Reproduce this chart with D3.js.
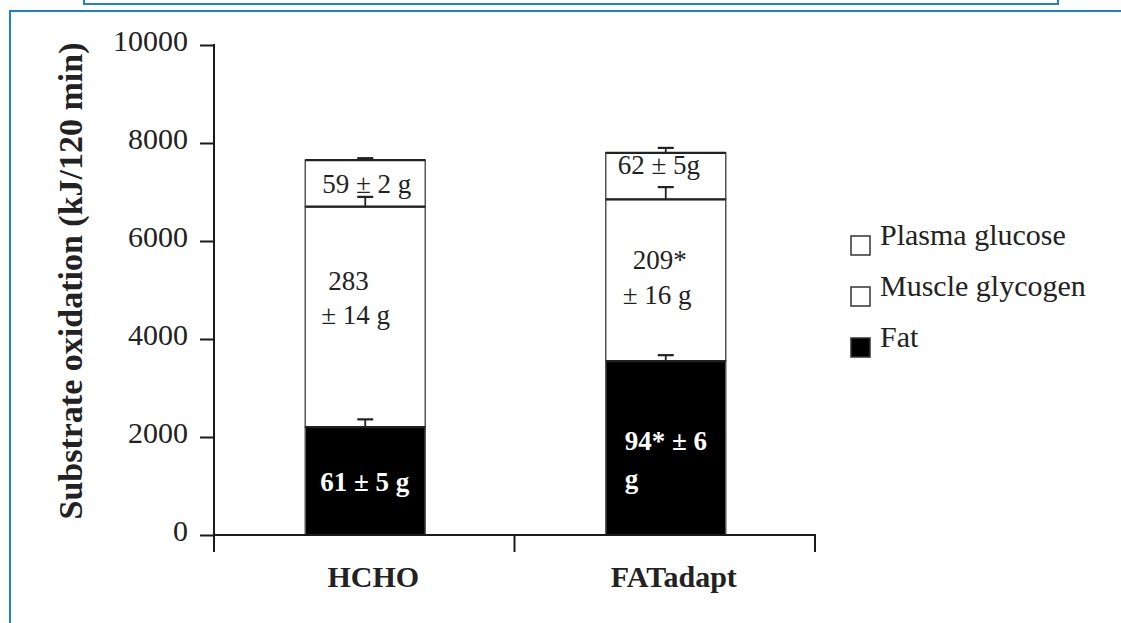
<!DOCTYPE html>
<html>
<head>
<meta charset="utf-8">
<script src="https://cdn.jsdelivr.net/npm/d3@7"></script>
<style>
  html, body { margin: 0; padding: 0; background: #fff; }
  svg { display: block; }
</style>
</head>
<body>
<svg id="chart" width="1121" height="623"></svg>
<script>
// ---- data ----
const categories = ["HCHO", "FATadapt"];
const seriesNames = ["Fat", "Muscle glycogen", "Plasma glucose"];
const fatValues = [2200, 3550];
const glycogenValues = [4500, 3300];
const plasmaValues = [950, 950];
const fatErrors = [160, 120];
const glycogenErrors = [200, 250];
const plasmaErrors = [40, 100];
const yTicks = [0, 2000, 4000, 6000, 8000, 10000];
const yTitle = "Substrate oxidation (kJ/120 min)";
const fatLabels = [["61 \u00B1 5 g"], ["94* \u00B1 6", "g"]];
const glycogenLabels = [["283", "\u00B1 14 g"], ["209*", "\u00B1 16 g"]];
const plasmaLabels = [["59 \u00B1 2 g"], ["62 \u00B1 5g"]];
const legendLabels = ["Plasma glucose", "Muscle glycogen", "Fat"];

// ---- layout ----
const svg = d3.select("#chart");
const blue = "#1f7fd3";
const serif = "'Liberation Serif', 'Times New Roman', serif";
const axisColor = "#1a1a1a";

// frames
svg.append("rect").attr("x", 84).attr("y", -10).attr("width", 974).attr("height", 14)
  .attr("fill", "none").attr("stroke", blue).attr("stroke-width", 2);
svg.append("rect").attr("x", 10).attr("y", 11).attr("width", 1130).attr("height", 640)
  .attr("fill", "none").attr("stroke", blue).attr("stroke-width", 2);

const y = d3.scaleLinear().domain([0, 10000]).range([535, 45]);
const x = d3.scaleBand().domain(categories).range([214, 815]).paddingInner(0).paddingOuter(0);
const barW = 120;
const barX = c => x(c) + x.bandwidth() / 2 - barW / 2 + 1;

// stacked data
const stackRows = categories.map((c, i) => ({
  cat: c,
  "Fat": fatValues[i],
  "Muscle glycogen": glycogenValues[i],
  "Plasma glucose": plasmaValues[i]
}));
const stacked = d3.stack().keys(seriesNames)(stackRows);
const fills = { "Fat": "#000", "Muscle glycogen": "#fff", "Plasma glucose": "#fff" };
const errs = { "Fat": fatErrors, "Muscle glycogen": glycogenErrors, "Plasma glucose": plasmaErrors };

const g = svg.append("g");

// bars
stacked.forEach(layer => {
  g.selectAll(null).data(layer).enter().append("rect")
    .attr("x", (d, i) => barX(categories[i]))
    .attr("y", d => y(d[1]))
    .attr("width", barW)
    .attr("height", d => y(d[0]) - y(d[1]))
    .attr("fill", fills[layer.key])
    .attr("stroke", "#555")
    .attr("stroke-width", 1.5);
});
// segment top lines
stacked.forEach(layer => {
  g.selectAll(null).data(layer).enter().append("line")
    .attr("x1", (d, i) => barX(categories[i]))
    .attr("x2", (d, i) => barX(categories[i]) + barW)
    .attr("y1", d => y(d[1])).attr("y2", d => y(d[1]))
    .attr("stroke", "#222").attr("stroke-width", 2.2);
});
// error bars
stacked.forEach(layer => {
  layer.forEach((d, i) => {
    const cx = barX(categories[i]) + barW / 2;
    const top = y(d[1] + errs[layer.key][i]);
    g.append("line").attr("x1", cx).attr("x2", cx).attr("y1", y(d[1])).attr("y2", top)
      .attr("stroke", "#222").attr("stroke-width", 1.8);
    g.append("line").attr("x1", cx - 8).attr("x2", cx + 8).attr("y1", top).attr("y2", top)
      .attr("stroke", "#222").attr("stroke-width", 2.2);
  });
});

// in-bar labels: [dx from bar left, dy from segment top]
const labelLayout = {
  "Plasma glucose": [[[17, 33]], [[12, 21]]],
  "Muscle glycogen": [[[23, 83], [16, 117]], [[27, 70], [17, 105]]],
  "Fat": [[[15, 64]], [[19, 89], [19, 127]]]
};
const labelText = { "Plasma glucose": plasmaLabels, "Muscle glycogen": glycogenLabels, "Fat": fatLabels };
stacked.forEach(layer => {
  layer.forEach((d, i) => {
    const lines = labelText[layer.key][i];
    lines.forEach((t, j) => {
      const pos = labelLayout[layer.key][i][j];
      g.append("text")
        .attr("x", barX(categories[i]) + pos[0])
        .attr("y", y(d[1]) + pos[1])
        .attr("font-family", serif)
        .attr("font-size", 27)
        .attr("font-weight", layer.key === "Fat" ? "bold" : "normal")
        .attr("fill", layer.key === "Fat" ? "#fff" : "#222")
        .text(t);
    });
  });
});

// y axis
const yAxis = d3.axisLeft(y).tickValues(yTicks).tickSize(14).tickPadding(12).tickFormat(d3.format("d"));
const ya = svg.append("g").attr("transform", "translate(214,0)").call(yAxis);
ya.select(".domain").remove();
ya.selectAll(".tick line").attr("stroke", axisColor).attr("stroke-width", 2);
ya.selectAll(".tick text").attr("font-family", serif).attr("font-size", 30)
  .attr("fill", "#222").attr("dy", null).attr("y", 5);
svg.append("line").attr("x1", 214).attr("x2", 214).attr("y1", y(10000) - 1).attr("y2", 552)
  .attr("stroke", axisColor).attr("stroke-width", 2);

// x axis
svg.append("line").attr("x1", 214).attr("x2", 816).attr("y1", y(0)).attr("y2", y(0))
  .attr("stroke", axisColor).attr("stroke-width", 2);
const xBounds = categories.map(c => x(c)).concat([x(categories[categories.length - 1]) + x.bandwidth()]);
svg.selectAll(null).data(xBounds).enter().append("line")
  .attr("x1", d => d).attr("x2", d => d).attr("y1", y(0)).attr("y2", 552)
  .attr("stroke", axisColor).attr("stroke-width", 2);
svg.selectAll(null).data(categories).enter().append("text")
  .attr("x", c => x(c) + x.bandwidth() / 2 + 9)
  .attr("y", 587)
  .attr("text-anchor", "middle")
  .attr("font-family", serif).attr("font-size", 30).attr("font-weight", "bold")
  .attr("fill", "#222")
  .text(c => c);

// y title
svg.append("text")
  .attr("transform", "translate(82,281) rotate(-90)")
  .attr("text-anchor", "middle")
  .attr("font-family", serif).attr("font-size", 34).attr("font-weight", "bold")
  .attr("fill", "#222")
  .text(yTitle);

// legend
const legendFill = { "Plasma glucose": "#fff", "Muscle glycogen": "#fff", "Fat": "#000" };
const lg = svg.append("g");
legendLabels.forEach((name, i) => {
  const by = 245 + i * 51;
  lg.append("rect").attr("x", 851).attr("y", by - 9).attr("width", 19).attr("height", 19)
    .attr("fill", legendFill[name]).attr("stroke", "#333").attr("stroke-width", 1.5);
  lg.append("text").attr("x", 880).attr("y", by)
    .attr("font-family", serif).attr("font-size", 30).attr("fill", "#222").text(name);
});
</script>
</body>
</html>
